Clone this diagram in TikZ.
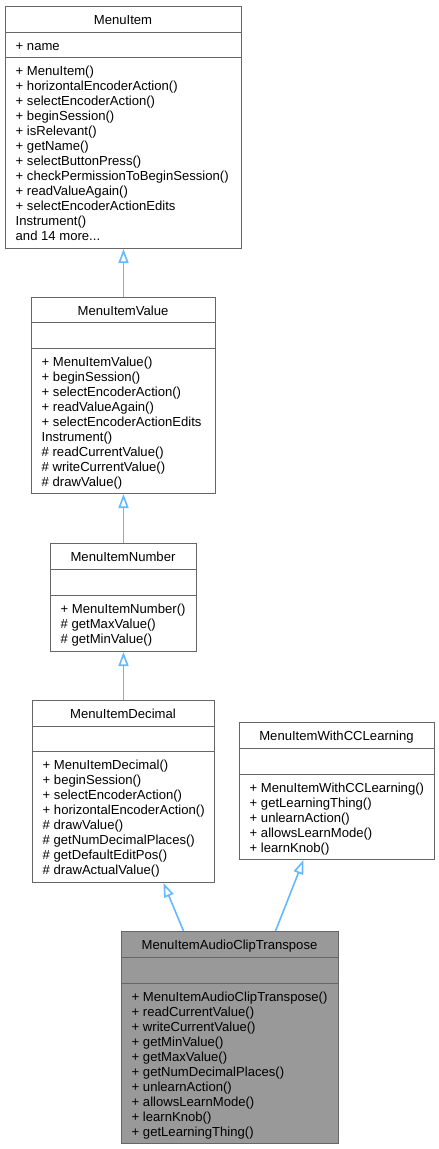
\documentclass[tikz,border=0pt]{standalone}
\usepackage{fontspec}
\setmainfont{Liberation Sans}
\usepackage{tikz}
\usetikzlibrary{arrows.meta, positioning, calc}
\definecolor{boxgrey}{HTML}{666666}
\definecolor{focusgrey}{HTML}{999999}
\definecolor{inheritblue}{HTML}{63B8FF}
\tikzset{
	classbox/.style={
		draw=boxgrey,
		line width=1pt,
		fill=white,
		inner sep=0pt,
		anchor=north west
	},
	sep/.style={
		draw=boxgrey,
		line width=1pt
	},
	member/.style={
		anchor=base west,
		inner sep=0pt,
		font=\fontsize{13.1}{15}\selectfont
	},
	classname/.style={
		anchor=base,
		inner sep=0pt,
		font=\fontsize{13.1}{15}\selectfont
	},
	inherit/.style={
		draw=inheritblue,
		line width=1.6pt,
		-{Triangle[open, length=14pt, width=10pt]}
	}
}

\begin{document}
\begin{tikzpicture}[x=1pt, y=-1pt]
		\useasboundingbox (0,0) rectangle (439,1149);
		
		% MenuItem
		\node[classbox, minimum width=236pt, minimum height=242pt] (menuitem) at (5,6) {};
		\draw[sep] (5,32) -- (241,32);
		\draw[sep] (5,57) -- (241,57);
		\node[classname] (menuitem-name) at (123,24) {MenuItem};
		\node[member] (menuitem-attr) at (15.5,50.5) {+ name};
		\foreach \m [count=\i] in {+ MenuItem(), + horizontalEncoderAction(), + selectEncoderAction(),
			+ beginSession(), + isRelevant(), + getName(), + selectButtonPress(),
			+ checkPermissionToBeginSession(), + readValueAgain(), + selectEncoderActionEdits,
			Instrument()} {
			\node[member] (menuitem-\i) at (15.5,60.5+15*\i) {\m};
		}
		\node[member] (menuitem-12) at (15.5,240.5) {and 14 more...};
		
		% MenuItemValue
		\node[classbox, minimum width=184pt, minimum height=196pt] (menuitemvalue) at (31,297) {};
		\draw[sep] (31,322) -- (215,322);
		\draw[sep] (31,348) -- (215,348);
		\node[classname] (menuitemvalue-name) at (123,315) {MenuItemValue};
		\foreach \m [count=\i] in {+ MenuItemValue(), + beginSession(), + selectEncoderAction(),
			+ readValueAgain(), + selectEncoderActionEdits, Instrument(),
			\# readCurrentValue(), \# writeCurrentValue(), \# drawValue()} {
			\node[member] (menuitemvalue-\i) at (41.5,351.5+15*\i) {\m};
		}
		
		% MenuItemNumber
		\node[classbox, minimum width=146pt, minimum height=108pt] (menuitemnumber) at (50,543) {};
		\draw[sep] (50,569) -- (196,569);
		\draw[sep] (50,595) -- (196,595);
		\node[classname] (menuitemnumber-name) at (123,561) {MenuItemNumber};
		\foreach \m [count=\i] in {+ MenuItemNumber(), \# getMaxValue(), \# getMinValue()} {
			\node[member] (menuitemnumber-\i) at (60.5,598.5+15*\i) {\m};
		}
		
		% MenuItemDecimal
		\node[classbox, minimum width=182pt, minimum height=182pt] (menuitemdecimal) at (32,700) {};
		\draw[sep] (32,726) -- (214,726);
		\draw[sep] (32,751) -- (214,751);
		\node[classname] (menuitemdecimal-name) at (123,718) {MenuItemDecimal};
		\foreach \m [count=\i] in {+ MenuItemDecimal(), + beginSession(), + selectEncoderAction(),
			+ horizontalEncoderAction(), \# drawValue(), \# getNumDecimalPlaces(),
			\# getDefaultEditPos(), \# drawActualValue()} {
			\node[member] (menuitemdecimal-\i) at (42.5,754.5+15*\i) {\m};
		}
		
		% MenuItemWithCCLearning
		\node[classbox, minimum width=195pt, minimum height=137pt] (withcc) at (239,722) {};
		\draw[sep] (239,748) -- (434,748);
		\draw[sep] (239,774) -- (434,774);
		\node[classname] (withcc-name) at (336.5,740) {MenuItemWithCCLearning};
		\foreach \m [count=\i] in {+ MenuItemWithCCLearning(), + getLearningThing(),
			+ unlearnAction(), + allowsLearnMode(), + learnKnob()} {
			\node[member] (withcc-\i) at (249.5,777.5+15*\i) {\m};
		}
		
		% MenuItemAudioClipTranspose
		\node[classbox, fill=focusgrey, minimum width=217pt, minimum height=212pt] (audioclip) at (121,931) {};
		\draw[sep] (121,957) -- (338,957);
		\draw[sep] (121,983) -- (338,983);
		\node[classname] (audioclip-name) at (229.5,949) {MenuItemAudioClipTranspose};
		\foreach \m [count=\i] in {+ MenuItemAudioClipTranspose(), + readCurrentValue(),
			+ writeCurrentValue(), + getMinValue(), + getMaxValue(), + getNumDecimalPlaces(),
			+ unlearnAction(), + allowsLearnMode(), + learnKnob(), + getLearningThing()} {
			\node[member] (audioclip-\i) at (131.5,986.5+15*\i) {\m};
		}
		
		% inheritance
		\draw[inherit] (menuitemvalue.north) -- (menuitem.south);
		\draw[inherit] (menuitemnumber.north) -- (menuitemvalue.south);
		\draw[inherit] (menuitemdecimal.north) -- (menuitemnumber.south);
		\draw[inherit] ([xshift=-46.5pt]audioclip.north) -- ([xshift=40pt]menuitemdecimal.south);
		\draw[inherit] ([xshift=45.5pt]audioclip.north) -- ([xshift=-33.5pt]withcc.south);
		
\end{tikzpicture}
\end{document}
